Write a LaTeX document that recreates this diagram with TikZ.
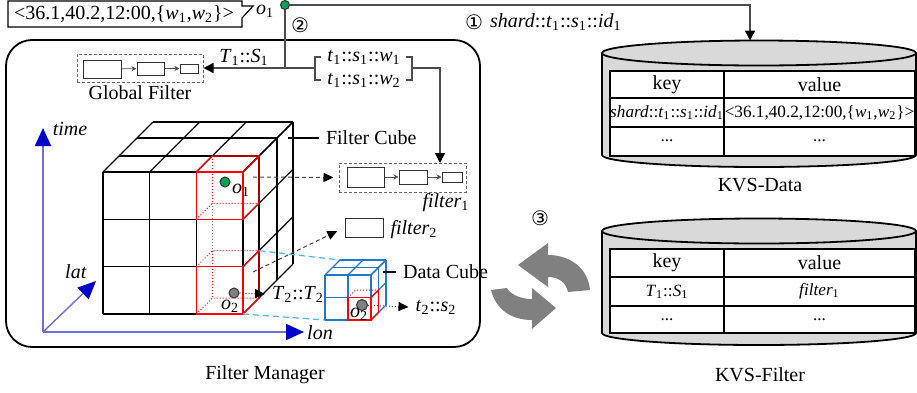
\documentclass[tikz,border=0pt]{standalone}
\usepackage{fontspec}
\setmainfont{Liberation Serif}
\newfontfamily\circfont{DejaVu Sans}
\usetikzlibrary{arrows.meta}
\definecolor{axisblue}{RGB}{0,0,204}
\definecolor{axisline}{RGB}{110,110,215}
\definecolor{cubeblue}{RGB}{30,120,205}
\definecolor{linkcyan}{RGB}{70,185,235}
\definecolor{cylgray}{RGB}{217,217,217}
\definecolor{icongray}{RGB}{128,128,128}
\definecolor{dotgreen}{RGB}{0,165,80}
\newcommand\ix[2]{\textit{#1}\textsubscript{#2}}
\newcommand\smallfont{\fontsize{8.6}{10}\selectfont}

\tikzset{
  cubeline/.style={line width=0.6pt, black},
  redcell/.style={line width=0.6pt, red},
  redhidden/.style={line width=0.5pt, red, densely dotted},
  grayhidden/.style={line width=0.5pt, gray, densely dotted},
  bluecell/.style={line width=0.6pt, cubeblue},
  link/.style={line width=0.7pt, draw=black!70},
  tip/.style={-{Triangle[length=5pt,width=5pt,color=black]}},
  dashlink/.style={line width=0.5pt, black!75, dash pattern=on 2pt off 1.5pt, -{Triangle[length=5pt,width=4.5pt,color=black]}},
  dotlink/.style={line width=0.5pt, black!75, densely dotted, -{Triangle[length=5pt,width=4.5pt,color=black]}},
  cyanlink/.style={line width=0.6pt, linkcyan, dash pattern=on 3pt off 2pt},
  axisarrow/.style={line width=1pt, axisline, -{Triangle[length=9pt,width=8pt,color=axisblue]}},
  fbox/.style={draw=black!80, line width=0.5pt, inner sep=0pt},
  dashfbox/.style={draw=black!60, dash pattern=on 1.5pt off 1pt, line width=0.5pt, inner sep=0pt},
  minarrow/.style={line width=0.4pt, black!70, -{Stealth[length=2.5pt,width=2.5pt]}},
  dotnode/.style={circle, draw=black!80, line width=0.5pt, inner sep=0pt, minimum size=5pt},
  cylline/.style={line width=0.9pt, black},
  circnum/.style={font=\circfont\fontsize{10}{12}\selectfont},
}

\begin{document}
\begin{tikzpicture}[x=0.5pt,y=-0.5pt,font=\fontsize{10}{12}\selectfont]
	%%%%% START %%%%%
	\useasboundingbox (0,0) rectangle (917,392);
	
	% record o1
	\draw[line width=0.6pt] (8,1) -- (242,1) -- (242,6) -- (253,6) -- (242,18) -- (242,27) -- (8,27) -- cycle;
	\node (rec) at (124,14) {<36.1,40.2,12:00,\{\ix{w}{1},\ix{w}{2}\}>};
	\node[inner sep=0pt] (o1top) at (265,11) {\ix{o}{1}};
	\node[dotnode, fill=dotgreen, minimum size=4.5pt] (o1dot) at (285,5) {};
	
	% filter manager
	\node[draw, line width=0.9pt, rounded corners=13pt, minimum width=237pt, minimum height=153.5pt] (mgr) at (243,193.5) {};
	\node (mgrlab) at (265,375) {Filter Manager};
	
	% global filter
	\node[dashfbox, minimum width=63pt, minimum height=14pt] (gfbox) at (140,68) {};
	\node[fbox, minimum width=19pt, minimum height=9pt] (g1) at (102,69) {};
	\node[fbox, minimum width=13.5pt, minimum height=6.5pt] (g2) at (150.5,68.5) {};
	\node[fbox, minimum width=9pt, minimum height=4.5pt] (g3) at (189,68.5) {};
	\draw[minarrow] (g1) -- (g2);
	\draw[minarrow] (g2) -- (g3);
	\node (gflab) at (140,93) {Global Filter};
	
	% path 1 and 2
	\coordinate (dtop) at (750,40.5);
	\coordinate (j2) at (285,68);
	\coordinate (brl) at (315,68);
	\coordinate (brr) at (412,68);
	\coordinate (f1in) at (440,163);
	\draw[link, tip] (o1dot) -| (dtop);
	\node[circnum] (n1) at (474,22) {①};
	\node[anchor=west] (shardlab) at (483,22) {\textit{shard}::\ix{t}{1}::\ix{s}{1}::\ix{id}{1}};
	\draw[link] (o1dot) -- (j2);
	\node[circnum] (n2) at (300,25) {②};
	\draw[link, tip] (brl) -- (gfbox.east);
	\node (T1lab) at (244,57) {\ix{T}{1}::\ix{S}{1}};
	\node (tw1) at (364,57) {\ix{t}{1}::\ix{s}{1}::\ix{w}{1}};
	\node (tw2) at (364,80) {\ix{t}{1}::\ix{s}{1}::\ix{w}{2}};
	\draw[link] (321,57) -- (315,57) -- (315,80) -- (321,80);
	\draw[link] (406,57) -- (412,57) -- (412,80) -- (406,80);
	\draw[link, tip] (brr) -| (f1in);
	
	% filter 1 and 2
	\node[dashfbox, minimum width=63.5pt, minimum height=14.5pt] (f1box) at (402.5,177.5) {};
	\node[fbox, minimum width=18.5pt, minimum height=10pt] (f11) at (365.5,177) {};
	\node[fbox, minimum width=14pt, minimum height=7pt] (f12) at (413,177) {};
	\node[fbox, minimum width=10pt, minimum height=5pt] (f13) at (452,177) {};
	\draw[minarrow] (f11) -- (f12);
	\draw[minarrow] (f12) -- (f13);
	\node (f1lab) at (446,203) {\ix{filter}{1}};
	\node[fbox, minimum width=19pt, minimum height=9.5pt] (f2box) at (364,227.5) {};
	\node (f2lab) at (414,230) {\ix{filter}{2}};
	
	% axes
	\coordinate (org) at (43,332);
	\coordinate (timeend) at (43,128);
	\coordinate (lonend) at (304,332);
	\coordinate (latend) at (96,281);
	\draw[axisarrow] (org) -- (timeend);
	\draw[axisarrow] (org) -- (lonend);
	\draw[axisarrow, line width=0.7pt] (org) -- (latend);
	\node (timelab) at (70,129) {\textit{time}};
	\node (lonlab) at (320,333) {\textit{lon}};
	\node (latlab) at (76,272) {\textit{lat}};
	
	% filter cube
	\foreach \x in {103,149.7,196.3,243}{
		\draw[cubeline] (\x,172) -- (\x,314);
		\draw[cubeline] (\x,172) -- ++(50,-50);
	}
	\foreach \y in {172,219.3,266.7,314}{
		\draw[cubeline] (103,\y) -- (243,\y);
		\draw[cubeline] (243,\y) -- ++(50,-50);
	}
	\foreach \d in {16,34,50}{
		\draw[cubeline] ({103+\d},{172-\d}) -- ({243+\d},{172-\d});
		\draw[cubeline] ({243+\d},{172-\d}) -- ({243+\d},{314-\d});
	}
	\draw[grayhidden] (212.3,203.3) -- (212.3,250.7);
	\draw[redcell] (196.3,172) rectangle (243,219.3);
	\draw[redcell] (196.3,172) -- ++(16,-16) -- ++(46.7,0) -- ++(0,47.3) -- (243,219.3);
	\draw[redcell] (243,172) -- ++(16,-16);
	\draw[redhidden] (196.3,219.3) -- ++(16,-16) -- ++(46.7,0);
	\draw[redhidden] (212.3,156) -- ++(0,47.3);
	\draw[redcell] (196.3,266.7) rectangle (243,314);
	\draw[redcell] (243,266.7) -- ++(16,-16) -- ++(0,47.3) -- (243,314);
	\draw[redhidden] (196.3,266.7) -- ++(16,-16) -- ++(46.7,0);
	\draw[redhidden] (196.3,314) -- ++(16,-16) -- ++(46.7,0);
	\draw[redhidden] (212.3,250.7) -- ++(0,47.3);
	\node[anchor=west] (fclab) at (319,138) {Filter Cube};
	\draw[cubeline] (288,138) -- (fclab.west);
	
	% data cube
	\coordinate (rc1) at (259.3,250.7);
	\coordinate (rc2) at (243,314);
	\coordinate (dc1) at (340,260);
	\coordinate (dc2) at (325,320);
	\draw[cyanlink] (rc1) -- (dc1);
	\draw[cyanlink] (rc2) -- (dc2);
	\foreach \x in {325,348,371}{
		\draw[bluecell] (\x,275) -- (\x,320);
		\draw[bluecell] (\x,275) -- ++(15,-15);
	}
	\foreach \y in {275,297.5,320}{
		\draw[bluecell] (325,\y) -- (371,\y);
		\draw[bluecell] (371,\y) -- ++(15,-15);
	}
	\foreach \d in {7.5,15}{
		\draw[bluecell] ({325+\d},{275-\d}) -- ({371+\d},{275-\d});
		\draw[bluecell] ({371+\d},{275-\d}) -- ({371+\d},{320-\d});
	}
	\draw[redcell] (348,297.5) rectangle (371,320);
	\draw[redcell] (371,297.5) -- ++(7.5,-7.5) -- ++(0,22.5) -- (371,320);
	\draw[redhidden] (348,297.5) -- ++(7.5,-7.5) -- ++(23,0);
	\node[anchor=west] (dclab) at (396,272) {Data Cube};
	\draw[cubeline] (383,272) -- (dclab.west);
	
	% objects
	\node[dotnode, fill=dotgreen] (o1) at (225,182) {};
	\node (o1lab) at (241,190) {\ix{o}{1}};
	\node[dotnode, fill=gray] (o2) at (234,293) {};
	\node (o2lab) at (230,306) {\ix{o}{2}};
	\node[dotnode, fill=gray, minimum size=5.5pt] (o2d) at (362,305) {};
	\node (o2dlab) at (359,314) {\ix{o}{2}};
	\coordinate (o1out) at (253,177);
	\coordinate (o2out) at (253,272);
	\draw[dashlink, shorten >=2.5pt] (o1out) -- (f1box.west);
	\draw[dashlink, shorten >=4pt] (o2out) -- (f2box.west);
	\node (T2lab) at (298,294) {\ix{T}{2}::\ix{T}{2}};
	\node (t2lab) at (436,307) {\ix{t}{2}::\ix{s}{2}};
	\draw[dotlink] (o2) -- (T2lab.west);
	\draw[dotlink] (o2d) -- (t2lab.west);
	
	% sync icon
	\node[circnum] (n3) at (540,218) {③};
	\fill[icongray] (518,265) -- (548,243) -- (548,255) .. controls (570,255) and (588,268) .. (590,290) -- (568,292) .. controls (566,282) and (558,277) .. (548,277) -- (548,287) -- cycle;
	\fill[icongray] (556,308) -- (532,288) -- (532,299) .. controls (520,299) and (510,294) .. (507,288) -- (491,290) .. controls (496,310) and (512,320) .. (532,320) -- (532,329) -- cycle;
	
	% KVS-Data
	\filldraw[cylline, fill=cylgray] (759,155) ellipse [x radius=157, y radius=12];
	\fill[cylgray] (602,53) rectangle (916,155);
	\draw[cylline] (602,53) -- (602,155);
	\draw[cylline] (916,53) -- (916,155);
	\filldraw[cylline, fill=cylgray] (759,53) ellipse [x radius=157, y radius=12.5];
	\filldraw[line width=0.7pt, fill=white] (610,71) rectangle (915,156);
	\draw[line width=0.7pt] (724,71) -- (724,156);
	\draw[line width=0.7pt] (610,98) -- (915,98);
	\draw[line width=0.7pt] (610,127) -- (915,127);
	\node (dk1) at (667,84.5) {key};
	\node (dv1) at (819.5,84.5) {value};
	\node[font=\smallfont] (dk2) at (667,112.5) {\textit{shard}::\ix{t}{1}::\ix{s}{1}::\ix{id}{1}};
	\node[font=\smallfont] (dv2) at (819.5,112.5) {<36.1,40.2,12:00,\{\ix{w}{1},\ix{w}{2}\}>};
	\node[font=\smallfont] (dk3) at (667,141) {...};
	\node[font=\smallfont] (dv3) at (819.5,141) {...};
	\node (kvsdlab) at (760,185) {KVS-Data};
	
	% KVS-Filter
	\filldraw[cylline, fill=cylgray] (759,333) ellipse [x radius=157, y radius=12];
	\fill[cylgray] (602,231) rectangle (916,333);
	\draw[cylline] (602,231) -- (602,333);
	\draw[cylline] (916,231) -- (916,333);
	\filldraw[cylline, fill=cylgray] (759,231) ellipse [x radius=157, y radius=12.5];
	\filldraw[line width=0.7pt, fill=white] (610,249) rectangle (915,333);
	\draw[line width=0.7pt] (724,249) -- (724,333);
	\draw[line width=0.7pt] (610,277) -- (915,277);
	\draw[line width=0.7pt] (610,306) -- (915,306);
	\node (fk1) at (667,263) {key};
	\node (fv1) at (819.5,263) {value};
	\node[font=\smallfont] (fk2) at (667,291.5) {\ix{T}{1}::\ix{S}{1}};
	\node[font=\smallfont] (fv2) at (819.5,291.5) {\ix{filter}{1}};
	\node[font=\smallfont] (fk3) at (667,319.5) {...};
	\node[font=\smallfont] (fv3) at (819.5,319.5) {...};
	\node (kvsflab) at (760,375) {KVS-Filter};
	%%%%% END %%%%%
\end{tikzpicture}
\end{document}
